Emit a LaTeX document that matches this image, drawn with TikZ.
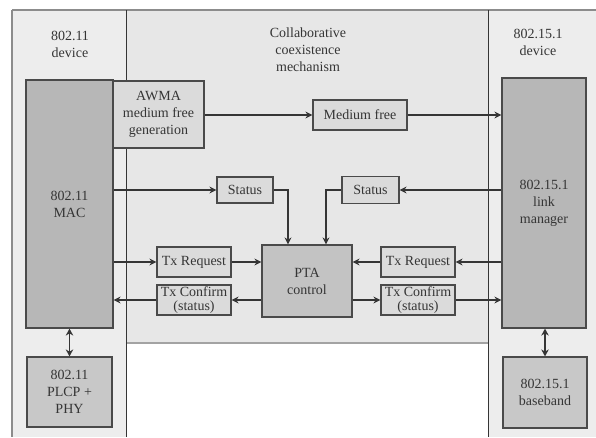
\documentclass[tikz,border=0pt]{standalone}
\usepackage{fontspec}
\setmainfont{Liberation Serif}
\usetikzlibrary{arrows.meta}
\definecolor{panel}{HTML}{EDEDED}
\definecolor{midpanel}{HTML}{E7E7E7}
\definecolor{darkfill}{HTML}{B7B7B7}
\definecolor{ptafill}{HTML}{C3C3C3}
\definecolor{phyfill}{HTML}{C8C8C8}
\definecolor{lightfill}{HTML}{DBDBDB}
\definecolor{edge}{HTML}{4A4A4A}
\definecolor{ink}{HTML}{353535}
\definecolor{frame}{HTML}{8C8C8C}

\begin{document}
\begin{tikzpicture}[x=1pt,y=-1pt,
  every node/.style={font=\fontsize{14}{17}\selectfont, text=ink, align=center, inner sep=0pt},
  layer/.style={draw=edge, line width=1.2pt, fill=darkfill},
  ptabox/.style={draw=edge, line width=1.2pt, fill=ptafill},
  phybox/.style={draw=edge, line width=1.2pt, fill=phyfill},
  sig/.style={draw=edge, line width=1.2pt, fill=lightfill},
  tight/.style={font=\fontsize{14}{14}\selectfont},
  link/.style={draw=ink, line width=1.3pt, -{Stealth[length=7pt,width=7pt]}},
  both/.style={draw=ink, line width=1.8pt, {Stealth[length=7pt,width=7.5pt]}-{Stealth[length=7pt,width=7.5pt]}}]

\useasboundingbox (0,0) rectangle (596,437);

% the three areas: 802.11 device, coexistence mechanism, 802.15.1 device
\fill[panel] (12,10) rectangle (126,437);
\fill[midpanel] (126,10) rectangle (488,343);
\fill[panel] (488,10) rectangle (596,437);
\draw[frame, line width=2pt] (12,10) -- (596,10);
\draw[frame, line width=1.5pt] (12,10) -- (12,437);
\draw[frame!80, line width=2.6pt] (126,343) -- (488,343);
\draw[ink, line width=1pt] (126,10) -- (126,437);
\draw[ink, line width=1pt] (488,10) -- (488,437);

\node (devL) at (70,44) {802.11\\device};
\node (devR) at (538,42) {802.15.1\\device};
\node (coex) at (308,50) {Collaborative\\coexistence\\mechanism};

% protocol layers
\node[layer, minimum width=87pt, minimum height=248pt] (mac) at (69.5,204) {802.11\\MAC};
\node[layer, minimum width=84pt, minimum height=250pt] (lm) at (544,203) {802.15.1\\link\\manager};
\node[phybox, minimum width=85pt, minimum height=70pt] (plcp) at (69.5,392) {802.11\\PLCP +\\PHY};
\node[phybox, minimum width=84pt, minimum height=71pt] (bb) at (545,392.5) {802.15.1\\baseband};

% coexistence blocks
\node[sig, minimum width=91pt, minimum height=67pt] (awma) at (158.5,114.5) {AWMA\\medium free\\generation};
\node[sig, minimum width=94pt, minimum height=30pt] (mfree) at (360,115) {Medium free};
\node[sig, minimum width=56pt, minimum height=26pt] (stL) at (245,190) {Status};
\node[sig, minimum width=57pt, minimum height=27pt] (stR) at (370.5,190) {Status};
\node[ptabox, minimum width=90pt, minimum height=72pt] (pta) at (307,281) {PTA\\control};
\node[sig, minimum width=74pt, minimum height=30pt] (reqL) at (194,262) {Tx Request};
\node[sig, tight, minimum width=74pt, minimum height=30pt] (cfL) at (194,300) {Tx Confirm\\(status)};
\node[sig, minimum width=74pt, minimum height=30pt] (reqR) at (418,262) {Tx Request};
\node[sig, tight, minimum width=74pt, minimum height=30pt] (cfR) at (418,300) {Tx Confirm\\(status)};

% signal paths
\draw[link] (awma.east |- mfree.west) -- (mfree.west);
\draw[link] (mfree.east) -- (mfree.east -| lm.west);
\draw[link] (mac.east |- stL.west) -- (stL.west);
\draw[link] (stL.east) -| ([xshift=-19pt]pta.north);
\draw[link] (lm.west |- stR.east) -- (stR.east);
\draw[link] (stR.west) -| ([xshift=19pt]pta.north);
\draw[link] (mac.east |- reqL.west) -- (reqL.west);
\draw[link] (reqL.east) -- (reqL.east -| pta.west);
\draw[link] (pta.west |- cfL.east) -- (cfL.east);
\draw[link] (cfL.west) -- (cfL.west -| mac.east);
\draw[link] (lm.west |- reqR.east) -- (reqR.east);
\draw[link] (reqR.west) -- (reqR.west -| pta.east);
\draw[link] (pta.east |- cfR.west) -- (cfR.west);
\draw[link] (cfR.east) -- (cfR.east -| lm.west);
\draw[both] (mac.south) -- (plcp.north);
\draw[both] (bb.north |- lm.south) -- (bb.north);
\end{tikzpicture}
\end{document}
